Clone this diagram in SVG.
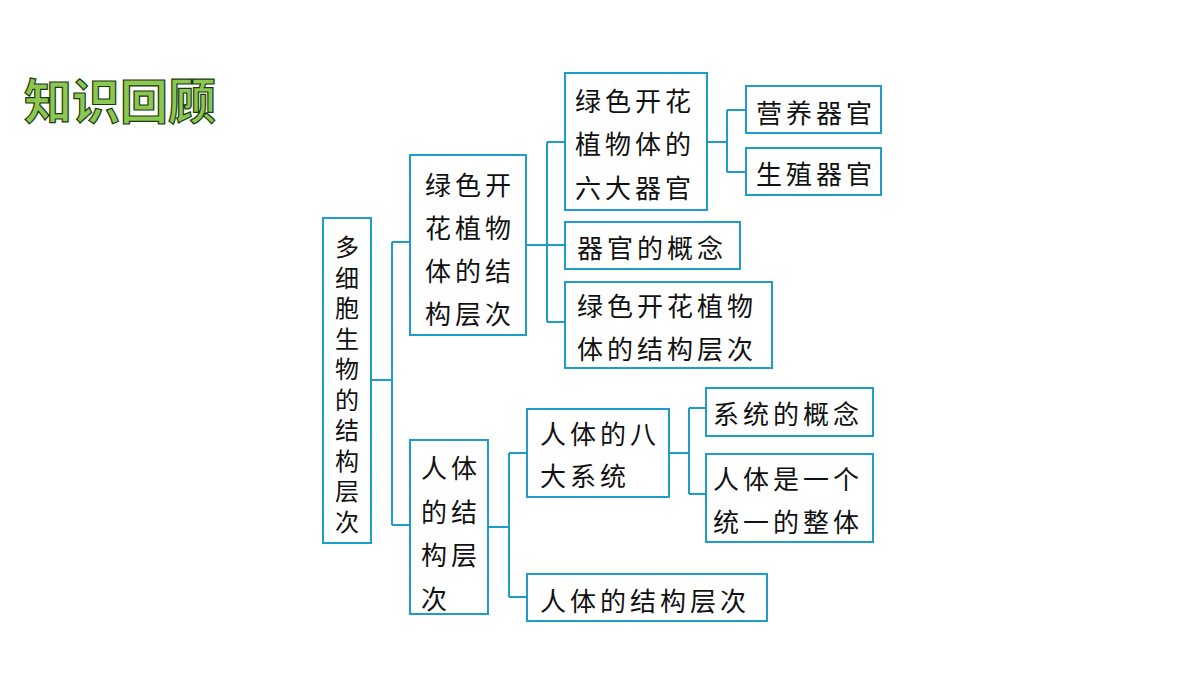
<svg xmlns="http://www.w3.org/2000/svg" width="1200" height="675" viewBox="0 0 1200 675">
<style>
rect{fill:#fff;stroke:#1e9ccc;stroke-width:2}
.c{fill:none;stroke:#1e9ccc;stroke-width:2}
text{font-family:"Noto Sans CJK SC",sans-serif;font-size:26px;fill:#111;dominant-baseline:central}
.r{font-size:24px}
.t{font-size:48px;font-weight:bold;fill:#8cc850;stroke:#1a3a10;stroke-width:1.2}
</style>
<text class="t" x="24" y="98">知识回顾</text>
<g id="connectors" class="c">
<path d="M371 380H392M392 242V525M392 242H410M392 525H410"/>
<path d="M526 245H547M547 142V322M547 142H565M547 245H565M547 322H565"/>
<path d="M707 142H727M727 110V172M727 110H746M727 172H746"/>
<path d="M488 527H509M509 453V597M509 453H527M509 597H527"/>
<path d="M669 453H689M689 408V494M689 408H706M689 494H706"/>
</g>
<g id="root"><rect x="323" y="218" width="48" height="325"/>
<text class="r" text-anchor="middle"><tspan x="347" y="245">多</tspan><tspan x="347" y="275.5">细</tspan><tspan x="347" y="306">胞</tspan><tspan x="347" y="336.5">生</tspan><tspan x="347" y="367">物</tspan><tspan x="347" y="397.5">的</tspan><tspan x="347" y="428">结</tspan><tspan x="347" y="458.5">构</tspan><tspan x="347" y="489">层</tspan><tspan x="347" y="519.5">次</tspan></text></g>
<g id="A"><rect x="410" y="155" width="116" height="180"/>
<text text-anchor="middle" letter-spacing="4"><tspan x="470" y="183">绿色开</tspan><tspan x="470" y="226">花植物</tspan><tspan x="470" y="269">体的结</tspan><tspan x="470" y="312">构层次</tspan></text></g>
<g id="B"><rect x="410" y="440" width="78" height="174"/>
<text letter-spacing="4"><tspan x="421" y="466">人体</tspan><tspan x="421" y="510">的结</tspan><tspan x="421" y="553">构层</tspan><tspan x="421" y="597">次</tspan></text></g>
<g id="A1"><rect x="565" y="73" width="142" height="137"/>
<text letter-spacing="4"><tspan x="575" y="99">绿色开花</tspan><tspan x="575" y="142">植物体的</tspan><tspan x="575" y="186">六大器官</tspan></text></g>
<g id="A2"><rect x="565" y="222" width="175" height="47"/><text x="577" y="246" letter-spacing="4">器官的概念</text></g>
<g id="A3"><rect x="565" y="282" width="207" height="86"/>
<text letter-spacing="4"><tspan x="577" y="304">绿色开花植物</tspan><tspan x="577" y="347">体的结构层次</tspan></text></g>
<g id="A1a"><rect x="746" y="86" width="135" height="47"/><text x="756" y="111" letter-spacing="4">营养器官</text></g>
<g id="A1b"><rect x="746" y="148" width="135" height="47"/><text x="756" y="172" letter-spacing="4">生殖器官</text></g>
<g id="B1"><rect x="527" y="409" width="142" height="88"/>
<text letter-spacing="4"><tspan x="540" y="432">人体的八</tspan><tspan x="540" y="474">大系统</tspan></text></g>
<g id="B2"><rect x="527" y="574" width="240" height="47"/><text x="540" y="599" letter-spacing="4">人体的结构层次</text></g>
<g id="B1a"><rect x="706" y="388" width="167" height="48"/><text x="713" y="412" letter-spacing="4">系统的概念</text></g>
<g id="B1b"><rect x="706" y="454" width="167" height="88"/>
<text letter-spacing="4"><tspan x="713" y="477">人体是一个</tspan><tspan x="713" y="520">统一的整体</tspan></text></g>
</svg>
